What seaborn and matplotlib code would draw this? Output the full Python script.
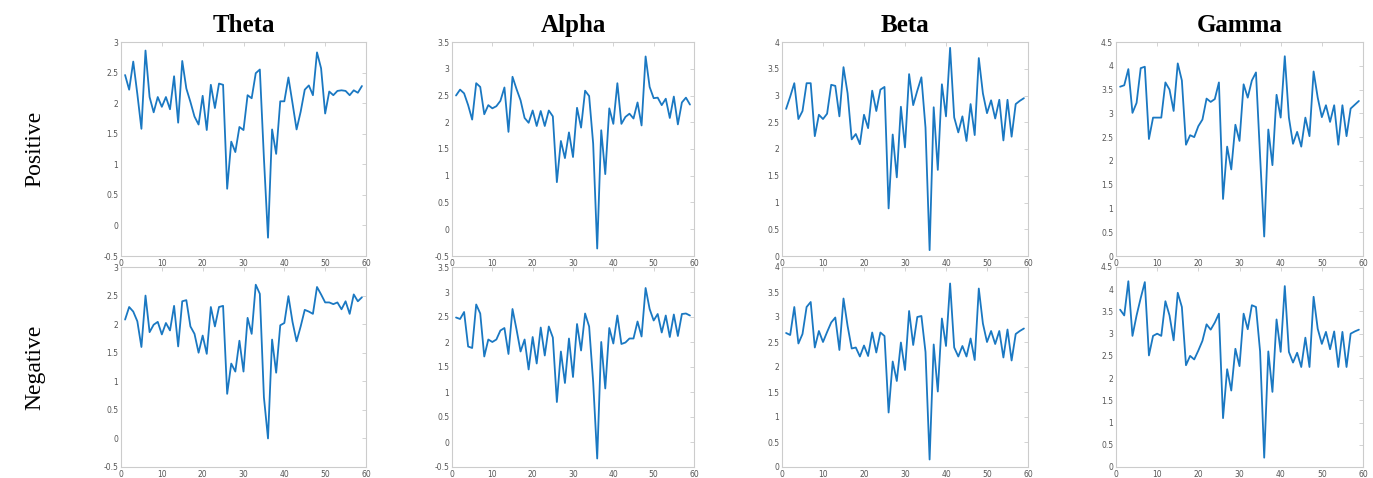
import matplotlib
matplotlib.use("Agg")
import matplotlib.pyplot as plt
import seaborn as sns
import numpy as np
import pandas as pd
from matplotlib.ticker import FormatStrFormatter, MultipleLocator

sns.set_style("white")

bands = ["Theta", "Alpha", "Beta", "Gamma"]
rows = ["Positive", "Negative"]
x = list(range(1, 60))

theta_pos = [2.46, 2.22, 2.68, 2.15, 1.58, 2.86, 2.10, 1.85, 2.10, 1.94,
             2.10, 1.90, 2.44, 1.68, 2.69, 2.24, 2.02, 1.78, 1.65, 2.12,
             1.56, 2.30, 1.92, 2.32, 2.30, 0.60, 1.37, 1.20, 1.61, 1.56,
             2.13, 2.08, 2.49, 2.55, 1.10, -0.20, 1.57, 1.17, 2.03, 2.03,
             2.42, 2.00, 1.57, 1.86, 2.22, 2.29, 2.13, 2.83, 2.57, 1.83,
             2.19, 2.13, 2.20, 2.21, 2.20, 2.13, 2.21, 2.17, 2.28]
theta_neg = [2.08, 2.30, 2.22, 2.05, 1.60, 2.50, 1.86, 1.99, 2.04, 1.82,
             2.02, 1.89, 2.32, 1.61, 2.40, 2.42, 1.96, 1.83, 1.50, 1.80,
             1.48, 2.30, 1.96, 2.30, 2.32, 0.78, 1.31, 1.17, 1.71, 1.17,
             2.11, 1.83, 2.69, 2.53, 0.72, 0.00, 1.73, 1.15, 1.98, 2.02,
             2.49, 2.04, 1.70, 1.96, 2.25, 2.22, 2.18, 2.65, 2.52, 2.38,
             2.38, 2.35, 2.38, 2.26, 2.40, 2.18, 2.52, 2.40, 2.47]
alpha_pos = [2.50, 2.61, 2.54, 2.32, 2.05, 2.73, 2.66, 2.15, 2.32, 2.26,
             2.30, 2.40, 2.65, 1.82, 2.85, 2.62, 2.41, 2.08, 1.99, 2.22,
             1.93, 2.21, 1.93, 2.22, 2.11, 0.88, 1.65, 1.33, 1.81, 1.35,
             2.27, 1.90, 2.59, 2.49, 1.60, -0.36, 1.85, 1.03, 2.26, 1.97,
             2.73, 1.97, 2.10, 2.16, 2.07, 2.37, 1.94, 3.23, 2.66, 2.45,
             2.46, 2.32, 2.44, 2.08, 2.48, 1.96, 2.37, 2.46, 2.33]
alpha_neg = [2.49, 2.46, 2.60, 1.91, 1.88, 2.75, 2.57, 1.71, 2.05, 2.00,
             2.05, 2.23, 2.28, 1.76, 2.66, 2.25, 1.81, 2.05, 1.45, 2.10,
             1.57, 2.29, 1.73, 2.31, 2.09, 0.80, 1.81, 1.18, 2.07, 1.30,
             2.36, 1.83, 2.57, 2.31, 1.20, -0.33, 2.00, 1.07, 2.28, 1.97,
             2.53, 1.96, 1.99, 2.07, 2.07, 2.41, 2.11, 3.08, 2.66, 2.43,
             2.56, 2.19, 2.53, 2.10, 2.55, 2.12, 2.56, 2.57, 2.53]
beta_pos = [2.75, 2.98, 3.23, 2.56, 2.71, 3.23, 3.23, 2.24, 2.64, 2.56,
            2.66, 3.20, 3.18, 2.61, 3.53, 3.04, 2.18, 2.28, 2.09, 2.64,
            2.39, 3.09, 2.71, 3.11, 3.16, 0.89, 2.27, 1.47, 2.79, 2.03,
            3.40, 2.82, 3.09, 3.34, 2.40, 0.11, 2.78, 1.61, 3.21, 2.61,
            3.89, 2.59, 2.31, 2.61, 2.15, 2.84, 2.26, 3.70, 3.04, 2.67,
            2.91, 2.57, 2.92, 2.16, 2.92, 2.23, 2.84, 2.90, 2.95]
beta_neg = [2.68, 2.64, 3.20, 2.47, 2.66, 3.20, 3.30, 2.39, 2.72, 2.50,
            2.70, 2.89, 2.99, 2.34, 3.37, 2.82, 2.37, 2.39, 2.21, 2.43,
            2.22, 2.69, 2.29, 2.69, 2.62, 1.09, 2.11, 1.72, 2.49, 1.94,
            3.12, 2.44, 3.00, 3.02, 2.30, 0.15, 2.45, 1.51, 2.97, 2.42,
            3.67, 2.39, 2.21, 2.42, 2.21, 2.57, 2.14, 3.57, 2.87, 2.50,
            2.72, 2.46, 2.72, 2.19, 2.75, 2.13, 2.66, 2.72, 2.77]
gamma_pos = [3.56, 3.59, 3.93, 3.01, 3.22, 3.95, 3.98, 2.46, 2.91, 2.91,
             2.91, 3.65, 3.50, 3.05, 4.05, 3.69, 2.34, 2.54, 2.50, 2.73,
             2.87, 3.31, 3.24, 3.30, 3.65, 1.20, 2.30, 1.82, 2.76, 2.42,
             3.61, 3.33, 3.69, 3.86, 2.10, 0.41, 2.66, 1.91, 3.39, 2.91,
             4.20, 2.91, 2.36, 2.61, 2.30, 2.91, 2.52, 3.88, 3.33, 2.92,
             3.17, 2.82, 3.17, 2.34, 3.17, 2.52, 3.10, 3.18, 3.26]
gamma_neg = [3.54, 3.41, 4.18, 2.95, 3.41, 3.80, 4.16, 2.51, 2.95, 3.00,
             2.95, 3.73, 3.41, 2.85, 3.92, 3.60, 2.29, 2.50, 2.42, 2.62,
             2.84, 3.21, 3.09, 3.25, 3.45, 1.10, 2.20, 1.72, 2.66, 2.27,
             3.45, 3.10, 3.64, 3.60, 2.60, 0.21, 2.60, 1.69, 3.32, 2.59,
             4.07, 2.59, 2.35, 2.57, 2.25, 2.91, 2.25, 3.83, 3.11, 2.77,
             3.04, 2.65, 3.05, 2.25, 3.04, 2.25, 3.00, 3.05, 3.09]

series = {
    ("Theta", "Positive"): theta_pos, ("Theta", "Negative"): theta_neg,
    ("Alpha", "Positive"): alpha_pos, ("Alpha", "Negative"): alpha_neg,
    ("Beta", "Positive"): beta_pos, ("Beta", "Negative"): beta_neg,
    ("Gamma", "Positive"): gamma_pos, ("Gamma", "Negative"): gamma_neg,
}
ylims = {"Theta": (-0.5, 3), "Alpha": (-0.5, 3.5), "Beta": (0, 4), "Gamma": (0, 4.5)}

W, H = 1373, 478
fig = plt.figure(figsize=(W / 100, H / 100), dpi=100)

# pixel boxes of the panels (left, right) and (top, bottom)
cols_px = [(121, 366), (452, 694), (782, 1028), (1116, 1363)]
rows_px = [(42, 256), (267, 467)]
serif = ["Liberation Serif", "DejaVu Serif"]

for j, band in enumerate(bands):
    l, r = cols_px[j]
    for i, row in enumerate(rows):
        t, b = rows_px[i]
        ax = fig.add_axes([l / W, 1 - b / H, (r - l) / W, (b - t) / H])
        df = pd.DataFrame({"x": x, "y": series[(band, row)]})
        sns.lineplot(data=df, x="x", y="y", ax=ax, color="#1a78c2", linewidth=1.3)
        ax.set_xlim(0, 60)
        ax.set_ylim(*ylims[band])
        ax.xaxis.set_major_locator(MultipleLocator(10))
        ax.yaxis.set_major_locator(MultipleLocator(0.5))
        ax.yaxis.set_major_formatter(FormatStrFormatter("%g"))
        ax.tick_params(direction="in", length=3, width=0.6, labelsize=5.5,
                       colors="#cccccc", labelcolor="#555555", pad=2,
                       top=True, right=True)
        for s in ax.spines.values():
            s.set_color("#cccccc")
            s.set_linewidth(0.8)
        ax.set_xlabel("")
        ax.set_ylabel("")
        if i == 0:
            ax.set_title(band, fontsize=18, fontweight="bold", color="black",
                         family=serif, pad=7)
        if j == 0:
            fig.text(35 / W, 1 - ((t + b) / 2) / H, row, rotation=90,
                     ha="center", va="center", fontsize=17, color="black",
                     family=serif)

fig.savefig("out.png", dpi=100)
